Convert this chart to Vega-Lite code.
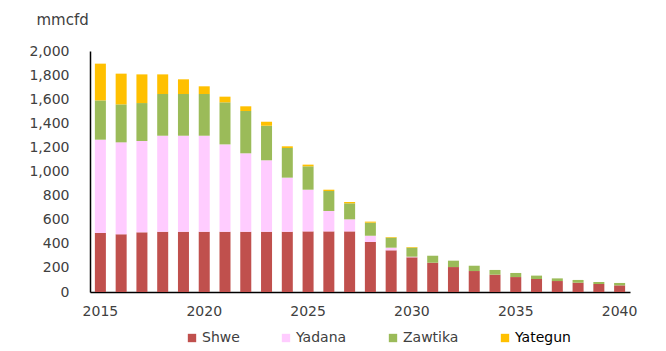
{
  "$schema": "https://vega.github.io/schema/vega-lite/v6.json",
  "width": 540,
  "height": 241,
  "autosize": "none",
  "padding": {"left": 90, "top": 51, "right": 36, "bottom": 59},
  "background": "white",
  "config": {
    "view": {"stroke": null},
    "font": "DejaVu Sans"
  },
  "data": {
    "values": [
      {"year": 2015, "Shwe": 490, "Yadana": 774, "Zawtika": 326, "Yategun": 305},
      {"year": 2016, "Shwe": 479, "Yadana": 763, "Zawtika": 315, "Yategun": 255},
      {"year": 2017, "Shwe": 495, "Yadana": 758, "Zawtika": 315, "Yategun": 238},
      {"year": 2018, "Shwe": 500, "Yadana": 797, "Zawtika": 346, "Yategun": 163},
      {"year": 2019, "Shwe": 500, "Yadana": 797, "Zawtika": 346, "Yategun": 122},
      {"year": 2020, "Shwe": 500, "Yadana": 797, "Zawtika": 346, "Yategun": 64},
      {"year": 2021, "Shwe": 500, "Yadana": 725, "Zawtika": 349, "Yategun": 47},
      {"year": 2022, "Shwe": 500, "Yadana": 651, "Zawtika": 351, "Yategun": 39},
      {"year": 2023, "Shwe": 500, "Yadana": 593, "Zawtika": 287, "Yategun": 33},
      {"year": 2024, "Shwe": 500, "Yadana": 449, "Zawtika": 246, "Yategun": 14},
      {"year": 2025, "Shwe": 503, "Yadana": 346, "Zawtika": 194, "Yategun": 14},
      {"year": 2026, "Shwe": 503, "Yadana": 169, "Zawtika": 166, "Yategun": 11},
      {"year": 2027, "Shwe": 503, "Yadana": 100, "Zawtika": 133, "Yategun": 11},
      {"year": 2028, "Shwe": 415, "Yadana": 52, "Zawtika": 108, "Yategun": 9},
      {"year": 2029, "Shwe": 346, "Yadana": 22, "Zawtika": 83, "Yategun": 5},
      {"year": 2030, "Shwe": 288, "Yadana": 5, "Zawtika": 75, "Yategun": 5},
      {"year": 2031, "Shwe": 243, "Yadana": 0, "Zawtika": 58, "Yategun": 0},
      {"year": 2032, "Shwe": 207, "Yadana": 0, "Zawtika": 53, "Yategun": 0},
      {"year": 2033, "Shwe": 174, "Yadana": 0, "Zawtika": 44, "Yategun": 0},
      {"year": 2034, "Shwe": 144, "Yadana": 0, "Zawtika": 39, "Yategun": 0},
      {"year": 2035, "Shwe": 124, "Yadana": 0, "Zawtika": 34, "Yategun": 0},
      {"year": 2036, "Shwe": 108, "Yadana": 0, "Zawtika": 28, "Yategun": 0},
      {"year": 2037, "Shwe": 91, "Yadana": 0, "Zawtika": 22, "Yategun": 0},
      {"year": 2038, "Shwe": 77, "Yadana": 0, "Zawtika": 23, "Yategun": 0},
      {"year": 2039, "Shwe": 66, "Yadana": 0, "Zawtika": 17, "Yategun": 0},
      {"year": 2040, "Shwe": 55, "Yadana": 0, "Zawtika": 20, "Yategun": 0}
    ]
  },
  "transform": [
    {"fold": ["Shwe", "Yadana", "Zawtika", "Yategun"], "as": ["field", "value"]},
    {"calculate": "indexof(['Shwe','Yadana','Zawtika','Yategun'], datum.field)", "as": "k"}
  ],
  "mark": {"type": "bar"},
  "encoding": {
    "x": {
      "field": "year",
      "type": "ordinal",
      "scale": {"paddingInner": 0.47, "paddingOuter": 0.235},
      "axis": {
        "title": null,
        "labelAngle": 0,
        "labelExpr": "datum.value % 5 === 0 ? datum.label : ''",
        "ticks": false,
        "labelPadding": 12,
        "labelFontSize": 14,
        "labelColor": "#404040",
        "domainColor": "#000000",
        "domainWidth": 1.5,
        "grid": false
      }
    },
    "y": {
      "field": "value",
      "type": "quantitative",
      "stack": "zero",
      "scale": {"domain": [0, 2000], "nice": false},
      "axis": {
        "values": [0, 200, 400, 600, 800, 1000, 1200, 1400, 1600, 1800, 2000],
        "format": ",.0f",
        "ticks": false,
        "grid": false,
        "labelPadding": 21,
        "labelFontSize": 14,
        "labelColor": "#404040",
        "domainColor": "#000000",
        "domainWidth": 1.5,
        "title": "mmcfd",
        "titleAngle": 0,
        "titleAlign": "left",
        "titleBaseline": "alphabetic",
        "titleX": -54,
        "titleY": -27,
        "titleFontSize": 15,
        "titleFontWeight": "normal",
        "titleColor": "#404040"
      }
    },
    "color": {
      "field": "field",
      "type": "nominal",
      "scale": {
        "domain": ["Shwe", "Yadana", "Zawtika", "Yategun"],
        "range": ["#C0504D", "#FFCCFF", "#9BBB59", "#FFC000"]
      },
      "legend": {
        "title": null,
        "orient": "none",
        "direction": "horizontal",
        "legendX": 95,
        "legendY": 280,
        "symbolType": "square",
        "symbolSize": 70,
        "symbolStrokeWidth": 0,
        "labelFontSize": 14,
        "labelOffset": 3,
        "columnPadding": 39,
        "labelColor": "#404040",
        "encode": {
          "labels": {
            "update": {
              "fill": {"signal": "datum.value === 'Yategun' ? '#000000' : '#404040'"}
            }
          }
        }
      }
    },
    "order": {"field": "k", "type": "quantitative"}
  }
}
